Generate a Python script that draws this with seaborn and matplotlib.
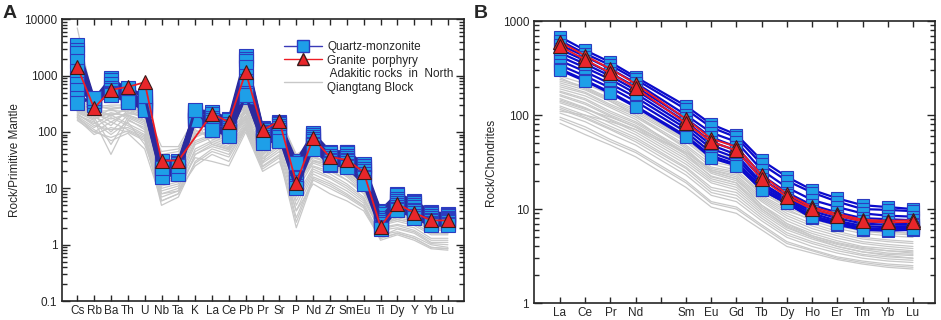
import numpy as np
import pandas as pd
import seaborn as sns
import matplotlib.pyplot as plt
from matplotlib.lines import Line2D
from matplotlib.ticker import LogLocator, NullFormatter, FixedLocator

# ---- panel A: primitive-mantle normalised spider diagram ----
spider_elems = ["Cs", "Rb", "Ba", "Th", "U", "Nb", "Ta", "K", "La", "Ce", "Pb", "Pr",
                "Sr", "P", "Nd", "Zr", "Sm", "Eu", "Ti", "Dy", "Y", "Yb", "Lu"]

qm_spider = [
    [3500, 380, 900, 560, 420, 28, 30, 240, 230, 170, 2200, 120, 150, 30, 95, 45, 45, 27, 4.0, 8.0, 6.0, 3.8, 3.5],
    [2800, 370, 520, 360, 250, 30, 28, 230, 200, 150, 2000, 115, 145, 22, 90, 40, 44, 24, 3.8, 7.0, 5.8, 3.6, 3.4],
    [2500, 350, 850, 480, 380, 25, 27, 220, 210, 160, 1800, 110, 140, 25, 88, 42, 42, 25, 3.5, 7.5, 5.5, 3.5, 3.3],
    [1800, 330, 700, 450, 350, 22, 24, 200, 180, 140, 1400, 100, 130, 20, 80, 38, 38, 22, 3.0, 6.5, 5.0, 3.2, 3.0],
    [1200, 320, 600, 420, 330, 20, 22, 190, 160, 130, 1000, 95, 120, 18, 75, 35, 35, 20, 2.8, 6.0, 4.6, 3.0, 2.9],
    [900, 310, 550, 400, 300, 19, 21, 180, 150, 120, 800, 90, 110, 15, 70, 32, 32, 18, 2.5, 5.5, 4.2, 2.8, 2.7],
    [700, 300, 500, 380, 280, 18, 20, 170, 130, 110, 650, 80, 100, 13, 62, 30, 30, 16, 2.3, 5.0, 4.0, 2.6, 2.6],
    [550, 380, 480, 360, 260, 17, 19, 165, 120, 100, 500, 75, 90, 11, 58, 28, 28, 15, 2.1, 4.6, 3.6, 2.4, 2.5],
    [400, 350, 460, 340, 250, 16, 18, 160, 110, 90, 420, 70, 80, 10, 52, 26, 25, 13, 2.0, 4.3, 3.2, 2.3, 2.3],
    [330, 400, 450, 600, 440, 23, 25, 250, 110, 85, 450, 65, 70, 28, 50, 27, 24, 12, 1.9, 4.2, 3.0, 2.2, 2.2],
]

gp_spider = [
    [1420, 265, 560, 630, 760, 31, 31, np.nan, 210, 150, 1150, 108, 155, 12.5, 77, 36, 32, 19.5, 2.1, 5.3, 3.7, 2.7, 2.7],
]

adakite_spider = [
    [7000, 300, 250, 280, 250, 55, 55, 180, 180, 150, 300, 90, 180, 40, 60, 50, 38, 22, 4.5, 6.0, 5.0, 3.0, 3.0],
    [350, 280, 300, 300, 220, 40, 45, 150, 160, 130, 280, 80, 150, 30, 55, 45, 32, 18, 4.0, 5.0, 4.5, 2.8, 2.8],
    [300, 250, 200, 250, 200, 30, 35, 120, 140, 110, 250, 70, 120, 25, 48, 40, 28, 16, 3.5, 4.5, 4.0, 2.5, 2.5],
    [280, 220, 150, 220, 180, 22, 25, 100, 120, 100, 220, 60, 100, 20, 42, 35, 24, 14, 3.2, 4.0, 3.5, 2.2, 2.2],
    [260, 200, 100, 200, 150, 18, 20, 90, 100, 85, 200, 50, 90, 15, 36, 30, 20, 12, 2.8, 3.5, 3.0, 2.0, 2.0],
    [240, 180, 60, 180, 130, 14, 16, 70, 90, 75, 180, 45, 80, 12, 32, 26, 17, 10, 2.5, 3.0, 2.6, 1.8, 1.8],
    [220, 160, 40, 160, 120, 10, 12, 60, 80, 65, 160, 40, 70, 9, 28, 22, 14, 8, 2.2, 2.6, 2.2, 1.5, 1.5],
    [200, 140, 200, 140, 100, 8, 10, 50, 70, 55, 150, 35, 60, 7, 24, 18, 12, 7, 2.0, 2.3, 2.0, 1.3, 1.3],
    [190, 120, 180, 130, 90, 6, 8, 40, 60, 48, 130, 30, 50, 5, 20, 15, 10, 6, 1.8, 2.0, 1.7, 1.1, 1.1],
    [180, 100, 150, 110, 80, 5, 7, 30, 50, 40, 120, 25, 40, 3, 16, 12, 8, 5, 1.5, 1.7, 1.4, 1.0, 0.9],
    [170, 90, 120, 100, 70, 7, 9, 25, 40, 30, 110, 22, 35, 2, 14, 10, 7, 4.5, 1.2, 1.5, 1.2, 0.85, 0.8],
    [320, 260, 280, 260, 160, 12, 15, 150, 60, 50, 300, 28, 120, 18, 25, 20, 14, 9, 2.4, 2.8, 2.4, 1.6, 1.6],
    [250, 190, 130, 240, 240, 25, 28, 180, 200, 140, 230, 90, 200, 35, 65, 30, 35, 20, 3.0, 5.5, 4.8, 2.6, 2.6],
    [200, 150, 90, 150, 60, 9, 11, 35, 30, 25, 100, 20, 30, 4, 12, 8, 6, 4, 1.3, 1.6, 1.3, 0.9, 0.85],
    [230, 170, 220, 190, 140, 16, 18, 80, 110, 90, 170, 55, 95, 10, 40, 24, 22, 13, 2.6, 3.8, 3.2, 2.1, 2.1],
    [270, 210, 170, 210, 200, 20, 30, 110, 75, 60, 240, 38, 75, 14, 30, 28, 18, 11, 2.0, 3.2, 2.8, 1.9, 1.9],
    [400, 290, 260, 290, 230, 35, 40, 160, 150, 120, 320, 75, 160, 32, 50, 42, 30, 17, 3.8, 4.8, 4.2, 2.7, 2.7],
    [210, 130, 110, 120, 85, 11, 13, 45, 65, 52, 140, 33, 55, 6, 22, 16, 11, 6.5, 1.9, 2.2, 1.8, 1.2, 1.2],
    [290, 230, 240, 230, 190, 26, 30, 130, 130, 105, 260, 65, 110, 22, 45, 38, 26, 15, 3.3, 4.2, 3.8, 2.4, 2.3],
    [180, 110, 70, 95, 50, 6, 8, 28, 45, 36, 115, 24, 38, 2.5, 15, 11, 7.5, 4.8, 1.3, 1.6, 1.3, 0.9, 0.85],
    [330, 240, 190, 270, 210, 45, 50, 140, 170, 140, 290, 85, 170, 28, 58, 48, 34, 19, 4.2, 5.4, 4.6, 2.9, 2.9],
    [230, 170, 260, 170, 110, 13, 15, 65, 85, 70, 170, 42, 75, 11, 30, 24, 16, 9, 2.3, 2.8, 2.4, 1.6, 1.6],
    [260, 190, 210, 200, 160, 17, 22, 95, 95, 80, 190, 48, 85, 16, 35, 28, 19, 11, 2.7, 3.3, 2.9, 1.9, 1.9],
    [160, 100, 80, 105, 75, 8, 9, 40, 55, 45, 125, 28, 45, 4, 18, 13, 9, 5.5, 1.4, 1.9, 1.6, 1.05, 1.0],
]

# ---- panel B: chondrite normalised REE ----
ree_ticks = ["La", "Ce", "Pr", "Nd", "", "Sm", "Eu", "Gd", "Tb", "Dy", "Ho", "Er", "Tm", "Yb", "Lu"]
ree_elems = [t for t in ree_ticks if t]

qm_ree = [
    [680, 490, 365, 255, 125, 80, 62, 33, 22, 16, 13, 11, 10.5, 10],
    [620, 450, 340, 240, 115, 74, 58, 30, 20, 15, 12, 10, 9.8, 9.5],
    [560, 420, 310, 220, 100, 65, 52, 26, 17, 12.5, 10.5, 9, 8.5, 8.3],
    [500, 380, 280, 200, 92, 58, 46, 23, 15, 11, 9.2, 8, 7.8, 7.6],
    [460, 350, 260, 185, 85, 52, 42, 21, 14, 10, 8.5, 7.4, 7.2, 7.0],
    [420, 320, 240, 170, 78, 48, 38, 19, 13, 9.5, 8, 7, 6.8, 6.8],
    [380, 290, 215, 155, 72, 44, 35, 18, 12.5, 9, 7.5, 6.6, 6.4, 6.5],
    [340, 260, 195, 140, 66, 40, 32, 17, 12, 8.5, 7.2, 6.3, 6.1, 6.3],
    [310, 235, 175, 125, 60, 37, 30, 16, 11.5, 8, 6.8, 6.0, 5.9, 6.0],
    [300, 230, 170, 122, 58, 35, 29, 16, 11.5, 8.2, 7.0, 6.2, 6.0, 6.2],
]

gp_ree = [
    [600, 430, 310, 215, 91, 56, 46, 23, 14.5, 10.5, 8.9, 7.7, 7.5, 7.6],
    [540, 390, 280, 195, 82, 52, 42, 21, 13.5, 10, 8.5, 7.4, 7.2, 7.3],
]

adakite_ree = [
    [260, 215, 165, 125, 62, 40, 34, 19, 13, 10, 8.5, 7.5, 7.2, 6.8],
    [240, 200, 150, 115, 56, 35, 30, 17, 12, 9, 7.5, 6.8, 6.5, 6.2],
    [220, 185, 140, 105, 52, 32, 28, 16, 11, 8.5, 7, 6.2, 5.8, 5.5],
    [200, 170, 125, 95, 46, 28, 25, 14, 10, 7.5, 6.2, 5.5, 5.2, 5.0],
    [180, 150, 110, 85, 42, 26, 22, 13, 9, 7, 5.8, 5.0, 4.7, 4.5],
    [165, 135, 100, 78, 38, 24, 20, 12, 8, 6.2, 5.2, 4.5, 4.2, 4.0],
    [150, 120, 90, 70, 34, 21, 18, 10.5, 7, 5.5, 4.6, 4.0, 3.8, 3.6],
    [135, 110, 82, 62, 30, 19, 16, 9.5, 6.3, 5.0, 4.2, 3.7, 3.4, 3.3],
    [120, 95, 72, 55, 27, 16, 14, 8.5, 5.6, 4.5, 3.8, 3.3, 3.1, 3.0],
    [105, 85, 63, 48, 23, 14, 12, 7.5, 5.0, 4.0, 3.4, 3.0, 2.8, 2.7],
    [95, 75, 55, 42, 20, 12, 10.5, 6.8, 4.5, 3.7, 3.1, 2.8, 2.6, 2.5],
    [82, 62, 48, 36, 17, 10.5, 9, 6.0, 4.0, 3.4, 2.9, 2.6, 2.4, 2.3],
    [250, 190, 140, 100, 44, 25, 21, 11, 7, 5.2, 4.3, 3.8, 3.6, 3.4],
    [110, 100, 85, 70, 40, 27, 24, 15, 11, 8.8, 7.5, 6.8, 6.5, 6.2],
    [190, 160, 120, 90, 38, 22, 19, 10, 6.5, 5.0, 4.0, 3.5, 3.2, 3.0],
    [140, 115, 95, 75, 40, 26, 23, 13.5, 9.5, 7.8, 6.6, 6.0, 5.7, 5.5],
    [230, 195, 145, 110, 54, 34, 29, 16.5, 11.5, 9, 7.4, 6.5, 6.2, 5.9],
    [210, 175, 130, 100, 48, 30, 26, 15, 10.5, 8, 6.6, 5.8, 5.5, 5.3],
    [175, 145, 105, 82, 40, 25, 21, 12.5, 8.5, 6.6, 5.5, 4.8, 4.5, 4.3],
    [160, 130, 97, 74, 36, 22.5, 19, 11, 7.5, 5.8, 4.9, 4.3, 4.0, 3.8],
    [145, 118, 88, 66, 32, 20, 17, 10, 6.7, 5.2, 4.4, 3.9, 3.6, 3.5],
    [125, 100, 76, 58, 28, 17, 15, 9, 6.0, 4.8, 4.0, 3.5, 3.3, 3.2],
    [90, 70, 52, 40, 19, 11.5, 10, 6.5, 4.3, 3.6, 3.0, 2.7, 2.5, 2.4],
    [115, 92, 70, 52, 25, 15, 13, 8, 5.3, 4.3, 3.6, 3.2, 2.95, 2.85],
]


def to_long(rows, elems, ticks):
    recs = []
    for i, row in enumerate(rows):
        for el, v in zip(elems, row):
            recs.append({"sample": i, "pos": ticks.index(el), "value": v})
    return pd.DataFrame(recs).dropna()


sns.set_style("ticks")
plt.rcParams["font.family"] = ["Liberation Sans", "DejaVu Sans"]

fig = plt.figure(figsize=(9.41, 3.2), dpi=100)
axA = fig.add_axes([0.066, 0.059, 0.427, 0.881])
axB = fig.add_axes([0.5675, 0.053, 0.426, 0.881])

GRAY = "#c8c8c8"
SQ_FACE = "#1e9fe8"
SQ_EDGE = "#2c3cc0"
TRI_FACE = "#e8262a"
TRI_EDGE = "#3a1a1a"


def draw(ax, gray, qm, gp, elems, ticks, qm_line, ms_sq, ms_tri, lw_qm):
    sns.lineplot(data=to_long(gray, elems, ticks), x="pos", y="value", units="sample",
                 estimator=None, color=GRAY, lw=0.9, ax=ax, sort=True)
    sns.lineplot(data=to_long(qm, elems, ticks), x="pos", y="value", units="sample",
                 estimator=None, color=qm_line, lw=lw_qm, marker="s", ms=ms_sq,
                 markerfacecolor=SQ_FACE, markeredgecolor=SQ_EDGE, markeredgewidth=0.8,
                 ax=ax, sort=True)
    sns.lineplot(data=to_long(gp, elems, ticks), x="pos", y="value", units="sample",
                 estimator=None, color="#ee1c24", lw=1.3, marker="^", ms=ms_tri,
                 markerfacecolor=TRI_FACE, markeredgecolor=TRI_EDGE, markeredgewidth=0.8,
                 ax=ax, sort=True)
    ax.set_yscale("log")
    ax.set_xticks(range(len(ticks)))
    ax.set_xticklabels(ticks, fontsize=9)
    ax.set_xlabel("")
    ax.tick_params(axis="both", which="both", direction="in", top=True, right=True,
                   labelsize=8.5, width=1.0)
    ax.tick_params(axis="y", which="major", length=6)
    ax.tick_params(axis="y", which="minor", length=3.5)
    ax.tick_params(axis="x", which="major", length=4, pad=3)
    ax.yaxis.set_minor_locator(LogLocator(base=10, subs=np.arange(2, 10)))
    ax.yaxis.set_minor_formatter(NullFormatter())
    for s in ax.spines.values():
        s.set_linewidth(1.2)


draw(axA, adakite_spider, qm_spider, gp_spider, spider_elems, spider_elems,
     "#2b2b9e", 9.5, 10.5, 2.0)
axA.set_xlim(-0.9, 22.95)
axA.set_ylim(0.1, 10000)
axA.yaxis.set_major_locator(FixedLocator([0.1, 1, 10, 100, 1000, 10000]))
axA.set_yticklabels(["0.1", "1", "10", "100", "1000", "10000"])
axA.set_ylabel("Rock/Primitive Mantle", fontsize=8.5, labelpad=2)

draw(axB, adakite_ree, qm_ree, gp_ree, ree_elems, ree_ticks,
     "#0b0bcc", 8.5, 9.5, 1.6)
axB.set_xlim(-1.03, 14.87)
axB.set_ylim(1, 1000)
axB.yaxis.set_major_locator(FixedLocator([1, 10, 100, 1000]))
axB.set_yticklabels(["1", "10", "100", "1000"])
axB.set_ylabel("Rock/Chondrites", fontsize=8.5, labelpad=4)

handles = [
    Line2D([], [], color="#3a3ab8", lw=1.0, marker="s", ms=8,
           markerfacecolor=SQ_FACE, markeredgecolor=SQ_EDGE),
    Line2D([], [], color="#ee1c24", lw=1.0, marker="^", ms=9,
           markerfacecolor=TRI_FACE, markeredgecolor=TRI_EDGE),
    Line2D([], [], color=GRAY, lw=1.0),
]
labels = ["Quartz-monzonite", "Granite  porphyry", " Adakitic rocks  in  North\nQiangtang Block"]
axA.legend(handles, labels, loc="upper left", bbox_to_anchor=(0.54, 0.94), frameon=False,
           fontsize=8.5, handlelength=3.2, handletextpad=0.5, labelspacing=0.15,
           borderaxespad=0)

fig.text(0.003, 0.985, "A", fontsize=14, fontweight="bold", va="top", ha="left")
fig.text(0.503, 0.985, "B", fontsize=14, fontweight="bold", va="top", ha="left")

fig.savefig("out.png", dpi=100)
